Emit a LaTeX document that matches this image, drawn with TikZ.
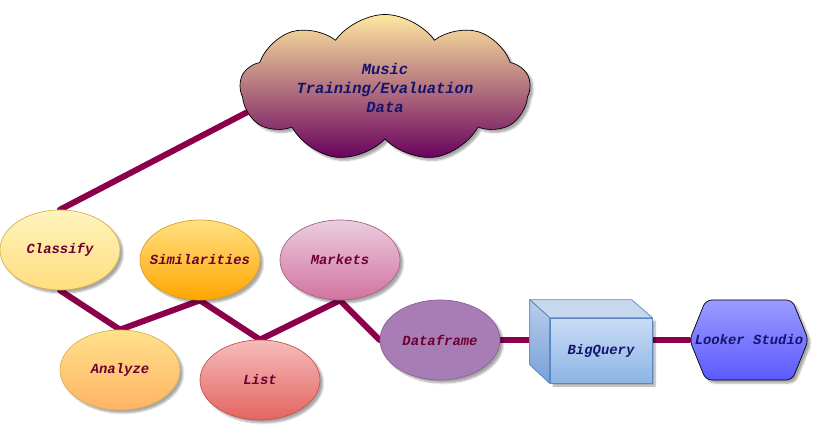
\documentclass[tikz,border=0pt]{standalone}
\usepackage{fontspec}
\setmonofont{Liberation Mono}
\usetikzlibrary{shapes.geometric,shapes.symbols,shadows.blur,backgrounds}
\definecolor{linecol}{RGB}{140,0,75}
\definecolor{mtext}{RGB}{110,0,50}
\definecolor{ntext}{RGB}{20,20,110}
\begin{document}
\begin{tikzpicture}[x=1pt,y=-1pt,
  lbl/.style={font=\ttfamily\bfseries\itshape\fontsize{13.9}{16}\selectfont},
  shad/.style={blur shadow={shadow xshift=3pt,shadow yshift=-3pt,shadow opacity=35,shadow blur steps=6}},
  ell/.style={ellipse,minimum width=120,minimum height=80,inner xsep=-12pt,inner ysep=0pt,lbl,text=mtext,shad,line width=0.7pt},
  conn/.style={line width=6pt,draw=linecol,line cap=round,line join=round}]
\useasboundingbox (0,0) rectangle (824,435);

\node[cloud,cloud puffs=9,cloud puff arc=110,cloud ignores aspect,minimum width=290,minimum height=147,inner sep=0pt,
  top color={rgb,255:red,255;green,232;blue,160},bottom color={rgb,255:red,104;green,0;blue,94},
  draw=black,line width=0.7pt,shad,align=center,text=ntext,
  font=\ttfamily\bfseries\itshape\fontsize{15.5}{19}\selectfont] (cloud) at (385,88)
  {Music\\Training/Evaluation\\Data};

\node[ell,top color={rgb,255:red,255;green,243;blue,190},bottom color={rgb,255:red,255;green,222;blue,125},draw={rgb,255:red,215;green,180;blue,80}] (cls) at (60,250) {Classify};
\node[ell,top color={rgb,255:red,255;green,225;blue,130},bottom color={rgb,255:red,255;green,165;blue,0},draw={rgb,255:red,215;green,160;blue,40}] (sim) at (200,260) {Similarities};
\node[ell,top color={rgb,255:red,235;green,205;blue,222},bottom color={rgb,255:red,210;green,115;blue,160},draw={rgb,255:red,165;green,100;blue,135}] (mkt) at (340,260) {Markets};
\node[ell,top color={rgb,255:red,255;green,225;blue,140},bottom color={rgb,255:red,255;green,180;blue,100},draw={rgb,255:red,215;green,180;blue,80}] (ana) at (120,370) {Analyze};
\node[ell,top color={rgb,255:red,245;green,188;blue,188},bottom color={rgb,255:red,228;green,100;blue,95},draw={rgb,255:red,195;green,85;blue,80}] (lst) at (260,380) {List};
\node[ell,fill={rgb,255:red,168;green,124;blue,180},draw={rgb,255:red,140;green,95;blue,150}] (df) at (440,340) {Dataframe};

% BigQuery box
\node[lbl,text=ntext,minimum width=102,minimum height=65,inner sep=0pt,shad,
  top color={rgb,255:red,200;green,220;blue,245},bottom color={rgb,255:red,140;green,180;blue,228},
  draw={rgb,255:red,90;green,135;blue,195},line width=0.7pt] (bq) at (601,350.5) {BigQuery};
\filldraw[fill={rgb,255:red,198;green,215;blue,238},draw={rgb,255:red,90;green,135;blue,195},line width=0.7pt,line join=round]
  (bq.north west) -- ++(-20,-18) -- ++(102,0) -- (bq.north east) -- cycle;
\filldraw[top color={rgb,255:red,185;green,205;blue,235},bottom color={rgb,255:red,120;green,160;blue,215},draw={rgb,255:red,90;green,135;blue,195},line width=0.7pt,line join=round]
  (bq.north west) -- ++(-20,-18) -- ++(0,65) -- (bq.south west) -- cycle;

\node[signal,signal to=west and east,signal pointer angle=136,minimum height=80,inner xsep=-11pt,inner ysep=0pt,
  top color={rgb,255:red,155;green,155;blue,255},bottom color={rgb,255:red,90;green,90;blue,255},
  draw=black,line width=0.7pt,rounded corners=6pt,shad,lbl,text=ntext] (lk) at (749,340) {Looker Studio};

\begin{scope}[on background layer]
\draw[conn] (cls.north) -- (cloud.190);
\draw[conn] (cls.south) -- (ana.north);
\draw[conn] (ana.north) -- (sim.south);
\draw[conn] (sim.south) -- (lst.north);
\draw[conn] (lst.north) -- (mkt.south);
\draw[conn] (mkt.south) -- (df.west);
\draw[conn] (df.east) -- (df.east -| bq.center);
\draw[conn] (lk.west) -- (lk.west -| bq.center);
\end{scope}
\end{tikzpicture}
\end{document}
